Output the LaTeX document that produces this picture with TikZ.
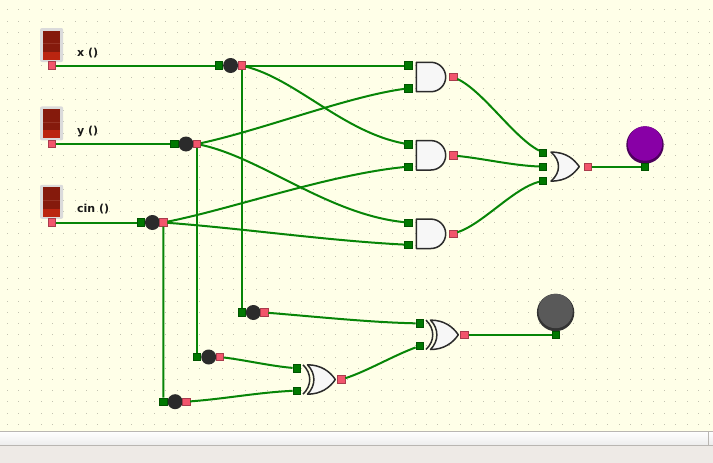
\documentclass[tikz,border=0pt]{standalone}
\usepackage{fontspec}
\setsansfont{DejaVu Sans}
\usetikzlibrary{positioning}
\definecolor{paper}{HTML}{FFFFE8}
\definecolor{griddot}{HTML}{C2C2B0}
\definecolor{wirecol}{HTML}{078507}
\definecolor{pinincol}{HTML}{007800}
\definecolor{pinoutcol}{HTML}{F2556C}
\definecolor{gateline}{HTML}{2B2B2B}
\definecolor{barline}{HTML}{B9B6B2}
\definecolor{windowbg}{HTML}{EEEAE6}
\definecolor{swdark}{HTML}{851A0C}
\definecolor{swbright}{HTML}{BB2510}
\definecolor{swseam}{HTML}{963224}
\definecolor{ledpurple}{HTML}{8800A6}
\definecolor{ledpurpledark}{HTML}{4C005C}
\tikzset{
  pinin/.style={rectangle, draw=pinincol!70!black, fill=pinincol, line width=.6pt, minimum size=7.5pt, inner sep=0pt},
  pinout/.style={rectangle, draw=pinoutcol!70!black, fill=pinoutcol, line width=.6pt, minimum size=7.5pt, inner sep=0pt},
  junct/.style={circle, fill=gateline, draw=none, minimum size=15pt, inner sep=0pt},
  wire/.style={draw=wirecol, line width=2pt},
  inputlabel/.style={font=\sffamily\bfseries\fontsize{11}{13}\selectfont, anchor=west, inner sep=0pt, text=black!90},
  gatebody/.style={draw=gateline, fill=white!97!black, line width=1.5pt, line join=round},
  andgate/.pic={
    \path[gatebody] (-14.7,-14.7) -- (0,-14.7) .. controls (8.1,-14.7) and (14.7,-8.1) .. (14.7,0)
      .. controls (14.7,8.1) and (8.1,14.7) .. (0,14.7) -- (-14.7,14.7) -- cycle;
  },
  orgate/.pic={
    \path[gatebody] (-14,-14.5) .. controls (2,-14.5) and (9,-7) .. (14.3,0)
      .. controls (9,7) and (2,14.5) .. (-14,14.5)
      .. controls (-4,6) and (-4,-6) .. (-14,-14.5) -- cycle;
  },
  xorgate/.pic={
    \path[gatebody] (-11.5,-14.7) .. controls (2,-14.7) and (11,-8) .. (16.3,0)
      .. controls (11,8) and (2,14.7) .. (-11.5,14.7)
      .. controls (-3,6) and (-3,-6) .. (-11.5,-14.7) -- cycle;
    \draw[draw=gateline, line width=1.5pt] (-16,-14.7) .. controls (-7,-6) and (-7,6) .. (-16,14.7);
  },
  switchbox/.pic={
    \fill[black!14, rounded corners=2pt] (-11.6,-17) rectangle (11.6,17);
    \fill[swdark] (-8.5,-14.5) rectangle (8.5,7);
    \fill[swbright] (-8.5,7) rectangle (8.5,15);
    \draw[swseam, line width=.5pt] (-8.5,-1.5) -- (8.5,-1.5);
  }
}

\begin{document}
\begin{tikzpicture}[x=1pt, y=-1pt]
    \useasboundingbox (0,0) rectangle (713,463);
    \fill[paper] (0,0) rectangle (713,431);
    % grid of the canvas
    \foreach \i in {0,...,62} {
        \foreach \j in {-1,...,36} {
            \fill[griddot] ({7.3+11.33*\i-.5},{21+11.2*\j-.5}) rectangle +(1,1);
        }
    }
    % bottom bars
    \shade[top color=white, bottom color=black!7] (0,431) rectangle (713,445);
    \fill[windowbg] (0,445) rectangle (713,463);
    \draw[barline, line width=1pt] (0,431.5) -- (713,431.5);
    \draw[barline, line width=1pt] (0,445.5) -- (713,445.5);
    \draw[barline, line width=1pt] (708,431.5) -- (708,445.5);

    % switches
    \pic at (51.6,45) {switchbox};
    \pic at (51.6,123.4) {switchbox};
    \pic at (51.6,201.8) {switchbox};
    \node[pinout] (xsw) at (51.6,65.5) {};
    \node[pinout] (ysw) at (51.6,144) {};
    \node[pinout] (csw) at (51.6,222.5) {};
    \node[inputlabel] (xlab) at (77,53) {x ()};
    \node[inputlabel] (ylab) at (77,131.3) {y ()};
    \node[inputlabel] (clab) at (77,209.5) {cin ()};

    % junctions on the inputs
    \node[junct] (xdot) at (230.6,65.5) {};
    \node[pinin, left=0pt of xdot] (xin) {};
    \node[pinout, right=-.8pt of xdot] (xout) {};
    \node[junct] (ydot) at (186,144) {};
    \node[pinin, left=0pt of ydot] (yin) {};
    \node[pinout, right=-.8pt of ydot] (yout) {};
    \node[junct] (cdot) at (152.4,222.5) {};
    \node[pinin, left=0pt of cdot] (cin) {};
    \node[pinout, right=-.8pt of cdot] (cout) {};

    % junctions feeding the xor gates
    \node[junct] (adot) at (253.3,312.5) {};
    \node[pinin, left=0pt of adot] (ain) {};
    \node[pinout, right=-.8pt of adot] (aout) {};
    \node[junct] (bdot) at (208.7,357) {};
    \node[pinin, left=0pt of bdot] (bin) {};
    \node[pinout, right=-.8pt of bdot] (bout) {};
    \node[junct] (ddot) at (175.1,401.7) {};
    \node[pinin, left=0pt of ddot] (din) {};
    \node[pinout, right=-.8pt of ddot] (dout) {};

    % and gates
    \pic at (431,77) {andgate};
    \node[pinin] (a1i) at (408.5,65.5) {};
    \node[pinin] (a1j) at (408.5,88.3) {};
    \node[pinout] (a1o) at (453.2,77) {};
    \pic at (431,155.3) {andgate};
    \node[pinin] (a2i) at (408.5,144.3) {};
    \node[pinin] (a2j) at (408.5,166.6) {};
    \node[pinout] (a2o) at (453.2,155.5) {};
    \pic at (431,233.8) {andgate};
    \node[pinin] (a3i) at (408.5,222.6) {};
    \node[pinin] (a3j) at (408.5,244.8) {};
    \node[pinout] (a3o) at (453.2,233.7) {};

    % or gate and its lamp
    \pic at (565,166.6) {orgate};
    \node[pinin] (oi1) at (543,152.7) {};
    \node[pinin] (oi2) at (543,166.6) {};
    \node[pinin] (oi3) at (543,180.7) {};
    \node[pinout] (oo) at (588,166.6) {};
    \node[circle, fill=ledpurpledark, minimum size=37.4pt, inner sep=0pt] (ledc) at (645,145) {};
    \node[circle, fill=ledpurple, minimum size=34.4pt, inner sep=0pt] (ledctop) at (645,143.5) {};
    \node[pinin] (ledcin) at (645,166.6) {};

    % xor gates and the lamp
    \pic at (442,334.8) {xorgate};
    \node[pinin] (xa) at (419.7,323.4) {};
    \node[pinin] (xb) at (419.7,346) {};
    \node[pinout] (xo) at (464.5,334.8) {};
    \pic at (319,379.5) {xorgate};
    \node[pinin] (za) at (296.6,368.2) {};
    \node[pinin] (zb) at (296.6,390.6) {};
    \node[pinout] (zo) at (341.3,379.5) {};
    \node[circle, fill=black!80, minimum size=37.4pt, inner sep=0pt] (leds) at (555.6,312.5) {};
    \node[circle, fill=black!65, minimum size=34.4pt, inner sep=0pt] (ledstop) at (555.6,311) {};
    \node[pinin] (ledsin) at (555.6,334.8) {};

    % wires
    \draw[wire] (xsw) -- (xin);
    \draw[wire] (ysw) -- (yin);
    \draw[wire] (csw) -- (cin);

    \draw[wire] (xout) -- (a1i);
    \draw[wire] (xout) .. controls +(55,14) and +(-65,-12) .. (a2i);
    \draw[wire] (xout) -- (ain);

    \draw[wire] (yout) .. controls +(65,-14) and +(-60,8) .. (a1j);
    \draw[wire] (yout) .. controls +(65,14) and +(-80,-8) .. (a3i);
    \draw[wire] (yout) -- (bin);

    \draw[wire] (cout) .. controls +(70,-14) and +(-80,8) .. (a2j);
    \draw[wire] (cout) .. controls +(80,6) and +(-80,-4) .. (a3j);
    \draw[wire] (cout) -- (din);

    \draw[wire] (a1o) .. controls +(30,14) and +(-30,-16) .. (oi1);
    \draw[wire] (a2o) .. controls +(30,3) and +(-30,-1) .. (oi2);
    \draw[wire] (a3o) .. controls +(30,-10) and +(-30,8) .. (oi3);
    \draw[wire] (oo) -- (ledcin);

    \draw[wire] (aout) .. controls +(50,4) and +(-50,-1) .. (xa);
    \draw[wire] (bout) .. controls +(25,3) and +(-25,-2) .. (za);
    \draw[wire] (dout) .. controls +(40,-3) and +(-40,2) .. (zb);
    \draw[wire] (zo) .. controls +(25,-8) and +(-25,9) .. (xb);
    \draw[wire] (xo) -- (ledsin);
\end{tikzpicture}
\end{document}
